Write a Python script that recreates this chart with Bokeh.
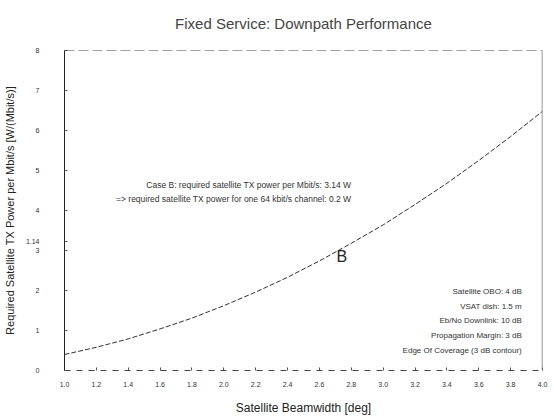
from bokeh.plotting import figure
from bokeh.models import Label, Span, FixedTicker, Range1d, Title
from bokeh.embed import file_html
from bokeh.resources import INLINE

beamwidth = [1.0, 1.2, 1.4, 1.6, 1.8, 2.0, 2.2, 2.4, 2.6, 2.8, 3.0, 3.2, 3.4, 3.6, 3.8, 4.0]
power = [0.40, 0.58, 0.79, 1.04, 1.31, 1.62, 1.96, 2.33, 2.74, 3.18, 3.64, 4.15, 4.68, 5.25, 5.85, 6.48]
x_ticks = [1.0, 1.2, 1.4, 1.6, 1.8, 2.0, 2.2, 2.4, 2.6, 2.8, 3.0, 3.2, 3.4, 3.6, 3.8, 4.0]
y_ticks = [0, 1, 2, 3, 4, 5, 6, 7, 8]
marker_value = 3.22
marker_label = "1.14"
case_lines = ["Case B: required satellite TX power per Mbit/s: 3.14 W",
              "=> required satellite TX power for one 64 kbit/s channel: 0.2 W"]
param_lines = ["Satellite OBO: 4 dB", "VSAT dish: 1.5 m", "Eb/No Downlink: 10 dB",
               "Propagation Margin: 3 dB", "Edge Of Coverage (3 dB contour)"]

FONT = "Liberation Sans"

p = figure(width=554, height=417, output_backend="svg", toolbar_location=None,
           title="Fixed Service: Downpath Performance",
           x_range=Range1d(1.0, 4.0), y_range=Range1d(0, 8),
           min_border_left=64, min_border_right=12, min_border_top=50, min_border_bottom=44)
p.title.text_font = FONT
p.title.text_font_size = "15px"
p.title.text_font_style = "normal"
p.title.align = "center"
p.title.offset = 20
p.title.standoff = 10
p.add_layout(Title(text=" ", text_font_size="11px", standoff=0), "above")

p.grid.visible = False
p.outline_line_color = None

p.xaxis.ticker = FixedTicker(ticks=x_ticks)
p.yaxis.ticker = FixedTicker(ticks=y_ticks + [marker_value])
p.xaxis.major_label_overrides = {t: f"{t:.1f}" for t in x_ticks}
p.yaxis.major_label_overrides = {marker_value: marker_label}
for ax in (p.xaxis, p.yaxis):
    ax.major_label_text_font = FONT
    ax.major_label_text_font_size = "7px"
    ax.major_label_text_color = "#333333"
    ax.axis_label_text_font = FONT
    ax.axis_label_text_font_style = "normal"
    ax.axis_label_text_color = "#222222"
    ax.major_tick_out = 0
    ax.major_tick_in = 3
    ax.minor_tick_line_color = None
    ax.major_tick_line_color = "#555555"
p.xaxis.axis_label = "Satellite Beamwidth [deg]"
p.yaxis.axis_label = "Required Satellite TX Power per Mbit/s [W/(Mbit/s)]"
p.xaxis.axis_label_text_font_size = "12px"
p.yaxis.axis_label_text_font_size = "11px"
p.xaxis.axis_line_dash = "6 6"
p.xaxis.axis_line_color = "#444444"
p.yaxis.axis_line_color = "#222222"
p.xaxis.major_label_standoff = 11
p.yaxis.major_label_standoff = 25
p.xaxis.axis_label_standoff = 11
p.yaxis.axis_label_standoff = 7

p.add_layout(Span(location=8, dimension="width", line_color="#444444", line_dash="10 4", line_width=1))
p.add_layout(Span(location=4.0, dimension="height", line_color="#777777", line_width=1.5))

p.line(beamwidth, power, line_color="#333333", line_width=1, line_dash="5 2")

for i, t in enumerate(case_lines):
    p.add_layout(Label(x=2.80, y=4.63 - i * 0.35, text=t, text_align="right", text_baseline="middle",
                       text_font=FONT, text_font_size="8.5px", text_color="#333333"))
p.add_layout(Label(x=2.74, y=2.85, text="B", text_align="center", text_baseline="middle",
                   text_font=FONT, text_font_size="16px", text_color="#222222"))
for i, t in enumerate(param_lines):
    p.add_layout(Label(x=3.87, y=1.98 - i * 0.37, text=t, text_align="right", text_baseline="middle",
                       text_font=FONT, text_font_size="8px", text_color="#333333"))

open("out.html", "w").write(file_html(p, INLINE))
